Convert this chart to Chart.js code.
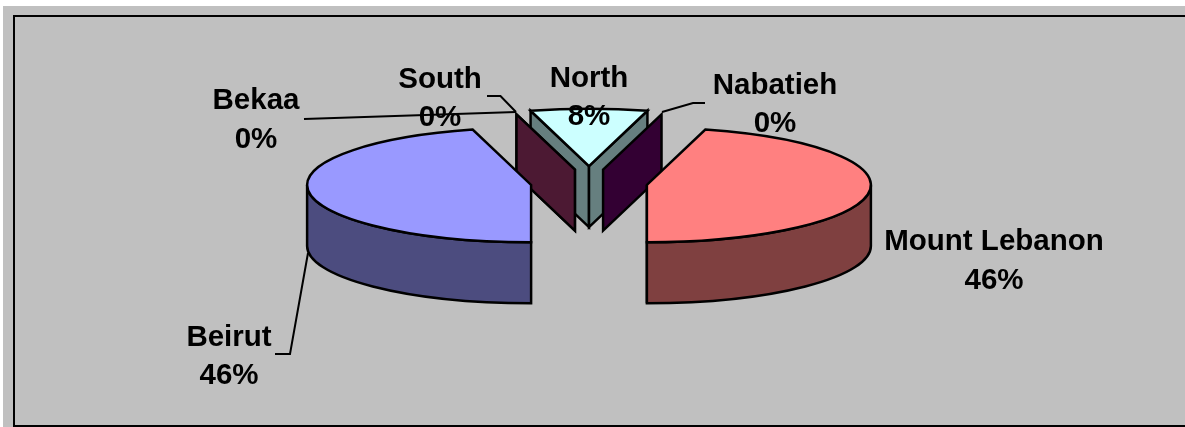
<!DOCTYPE html>
<html>
<head>
<meta charset="utf-8">
<title>Pie</title>
<script src="https://cdn.jsdelivr.net/npm/chart.js@4/dist/chart.umd.min.js"></script>
<style>
  html, body { margin: 0; padding: 0; background: #fff; overflow: hidden; width: 1185px; height: 427px; }
  #fundo { position: absolute; left: 3px; top: 6px; width: 1182px; height: 421px; background: #c0c0c0; }
  #moldura { position: absolute; left: 13px; top: 15px; width: 1190px; height: 408px; border: 2px solid #000; }
  canvas { position: absolute; left: 0; top: 0; }
</style>
</head>
<body>
<div id="fundo"></div>
<div id="moldura"></div>
<canvas id="grafico" width="1185" height="427"></canvas>
<script>
const regioes = ["Beirut", "Bekaa", "South", "North", "Nabatieh", "Mount Lebanon"];
const percentuais = [45.8, 0, 0, 8.4, 0, 45.8];
const cores = ["#9999ff", "#993366", "#ffffcc", "#ccffff", "#660066", "#ff8080"];

const achatamento = 0.256;
const altura = 61;
// deslocamento de cada fatia em px
const explosao = [58.4, 54, 54, 66, 54, 58.4];

// centro de cada rotulo (linha do nome, linha do %)
const rotulos = [
  [229, 338, 376], [256, 101, 140], [440, 80, 118],
  [589, 79, 117], [775, 86, 124], [994, 242, 281]
];
const guias = [
  [[308, 253], [290, 354], [275, 354]],
  [[516, 112], [304, 119]],
  [[516, 112], [500.5, 96], [487, 96]],
  [],
  [[662, 112], [693, 103], [705, 103]],
  []
];

function escurecer(hex) {
  const n = parseInt(hex.slice(1), 16);
  const r = (n >> 16) >> 1, g = ((n >> 8) & 255) >> 1, b = (n & 255) >> 1;
  return `rgb(${r},${g},${b})`;
}

let centroY = 0;

function geometria(el, i) {
  return {
    i,
    s: el.startAngle,
    e: el.endAngle,
    r: el.outerRadius,
    x: el.x,
    y: centroY + (el.y - centroY) * achatamento
  };
}

function paredeRadial(ctx, g, ang, cor) {
  const bx = g.x + Math.cos(ang) * g.r;
  const by = g.y + Math.sin(ang) * g.r * achatamento;
  ctx.beginPath();
  ctx.moveTo(g.x, g.y);
  ctx.lineTo(bx, by);
  ctx.lineTo(bx, by + altura);
  ctx.lineTo(g.x, g.y + altura);
  ctx.closePath();
  ctx.fillStyle = cor;
  ctx.fill();
  ctx.stroke();
}

function paredeExterna(ctx, g, cor) {
  // so a parte da borda virada para a frente (metade de baixo da elipse)
  [0, Math.PI * 2].forEach(base => {
    const ini = Math.max(g.s, base), fim = Math.min(g.e, base + Math.PI);
    if (fim <= ini) return;
    ctx.beginPath();
    ctx.ellipse(g.x, g.y, g.r, g.r * achatamento, 0, ini, fim);
    ctx.ellipse(g.x, g.y + altura, g.r, g.r * achatamento, 0, fim, ini, true);
    ctx.closePath();
    ctx.fillStyle = cor;
    ctx.fill();
    ctx.stroke();
  });
}

const pizza3d = {
  id: "pizza3d",
  afterDatasetsUpdate(chart) {
    // afasta cada fatia do centro antes de desenhar
    const arcos = chart.getDatasetMeta(0).data;
    centroY = arcos[0].y;
    arcos.forEach((el, i) => {
      const meio = (el.startAngle + el.endAngle) / 2;
      el.x += Math.cos(meio) * explosao[i];
      el.y += Math.sin(meio) * explosao[i];
    });
  },
  beforeDatasetsDraw(chart) {
    const ctx = chart.ctx;
    const gs = chart.getDatasetMeta(0).data.map(geometria);
    ctx.save();
    ctx.lineWidth = 2.5;
    ctx.strokeStyle = "#000";
    // de tras para a frente
    [...gs].sort((a, b) => a.y - b.y || b.i - a.i).forEach(g => {
      const cor = escurecer(cores[g.i]);
      if (Math.cos(g.s) < 0) paredeRadial(ctx, g, g.s, cor);
      if (Math.cos(g.e) > 0) paredeRadial(ctx, g, g.e, cor);
    });
    gs.forEach(g => paredeExterna(ctx, g, escurecer(cores[g.i])));
    ctx.restore();
    // as fatias do proprio Chart.js saem achatadas
    ctx.save();
    ctx.translate(0, centroY);
    ctx.scale(1, achatamento);
    ctx.translate(0, -centroY);
  },
  afterDatasetsDraw(chart) {
    const ctx = chart.ctx;
    ctx.restore();
    const gs = chart.getDatasetMeta(0).data.map(geometria);
    ctx.save();
    ctx.lineWidth = 2.5;
    ctx.strokeStyle = "#000";
    gs.forEach(g => {
      if (g.e - g.s <= 0) return;
      ctx.beginPath();
      ctx.moveTo(g.x, g.y);
      ctx.ellipse(g.x, g.y, g.r, g.r * achatamento, 0, g.s, g.e);
      ctx.closePath();
      ctx.stroke();
    });
    ctx.lineWidth = 2;
    guias.forEach(pts => {
      if (!pts.length) return;
      ctx.beginPath();
      pts.forEach((p, k) => k ? ctx.lineTo(p[0], p[1]) : ctx.moveTo(p[0], p[1]));
      ctx.stroke();
    });
    ctx.fillStyle = "#000";
    ctx.font = "bold 29.5px 'Liberation Sans', Arial, sans-serif";
    ctx.textAlign = "center";
    ctx.textBaseline = "middle";
    regioes.forEach((nome, i) => {
      const [x, y1, y2] = rotulos[i];
      ctx.fillText(nome, x, y1);
      ctx.fillText(Math.round(percentuais[i]) + "%", x, y2);
    });
    ctx.restore();
  }
};

new Chart(document.getElementById("grafico").getContext("2d"), {
  type: "pie",
  data: {
    labels: regioes,
    datasets: [{
      data: percentuais,
      backgroundColor: cores,
      borderWidth: 0,
      radius: 224,
      clip: false
    }]
  },
  plugins: [pizza3d],
  options: {
    responsive: false,
    animation: false,
    rotation: 180,
    layout: { padding: { right: 7, bottom: 61 } },
    events: [],
    plugins: { legend: { display: false }, tooltip: { enabled: false } }
  }
});
</script>
</body>
</html>
